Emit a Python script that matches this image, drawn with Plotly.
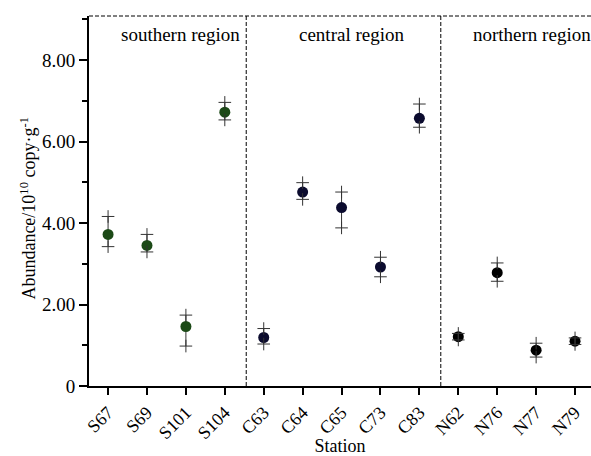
import plotly.graph_objects as go

stations = ["S67", "S69", "S101", "S104", "C63", "C64", "C65", "C73", "C83", "N62", "N76", "N77", "N79"]
regions = ["southern region", "central region", "northern region"]
region_sizes = [4, 5, 4]
region_colors = ["#1c4a17", "#0b0b2e", "#000000"]
values = [3.72, 3.45, 1.46, 6.72, 1.19, 4.76, 4.38, 2.92, 6.57, 1.21, 2.78, 0.88, 1.10]
upper = [4.16, 3.72, 1.74, 6.96, 1.41, 4.99, 4.76, 3.16, 6.92, 1.29, 3.02, 1.05, 1.18]
lower = [3.42, 3.29, 0.98, 6.53, 1.03, 4.58, 3.88, 2.68, 6.35, 1.13, 2.57, 0.71, 1.02]
ytickvals = [0, 2, 4, 6, 8]
yticktext = ["0", "2.00", "4.00", "6.00", "8.00"]

FONT = "Liberation Serif"
ERRC = "#333333"
fig = go.Figure()

start = 0
for reg, n, col in zip(regions, region_sizes, region_colors):
    idx = list(range(start, start + n))
    xs = idx
    ys = [values[i] for i in idx]
    ep = [upper[i] - values[i] for i in idx]
    em = [values[i] - lower[i] for i in idx]
    fig.add_trace(go.Scatter(
        x=xs, y=ys, mode="markers",
        marker=dict(size=11, color=col, line=dict(width=0)),
        error_y=dict(type="data", symmetric=False, array=ep, arrayminus=em,
                     color=ERRC, thickness=1, width=0),
        showlegend=False, name=reg))
    ends_x = xs + xs
    ends_y = [upper[i] for i in idx] + [lower[i] for i in idx]
    fig.add_trace(go.Scatter(
        x=ends_x, y=ends_y, mode="markers",
        marker=dict(symbol="cross-thin-open", size=9, color=ERRC, line=dict(width=1, color=ERRC)),
        showlegend=False, hoverinfo="skip"))
    start += n

bounds = []
acc = 0
for n in region_sizes[:-1]:
    acc += n
    bounds.append(acc - 0.45)
for b in bounds:
    fig.add_shape(type="line", x0=b, x1=b, y0=0, y1=1, xref="x", yref="paper",
                  line=dict(color="black", width=1, dash="4px,2px"))
fig.add_shape(type="line", x0=0, x1=1, y0=1, y1=1, xref="paper", yref="paper",
              line=dict(color="black", width=1, dash="4px,2px"))

label_x = [1.85, 6.25, 10.9]
for reg, lx in zip(regions, label_x):
    fig.add_annotation(x=lx, y=0.985, xref="x", yref="paper", text=reg, showarrow=False,
                       yanchor="top", font=dict(family=FONT, size=19, color="black"))

fig.add_annotation(x=-0.148, y=0.48, xref="paper", yref="paper",
                   text="Abundance/10<sup>10</sup> copy·g<sup>-1</sup>", textangle=-90,
                   showarrow=False, font=dict(family=FONT, size=18, color="black"))

fig.update_layout(
    width=591, height=456,
    margin=dict(l=89, r=0, t=16, b=70),
    plot_bgcolor="white", paper_bgcolor="white",
    font=dict(family=FONT, color="black"),
)
fig.update_xaxes(
    range=[-0.49, 12.41], tickvals=list(range(len(stations))), ticktext=stations,
    tickangle=-45, tickfont=dict(family=FONT, size=18), automargin=False,
    showline=True, linecolor="black", linewidth=2, ticks="outside", ticklen=7,
    tickwidth=2, tickcolor="black", showgrid=False, zeroline=False,
    title=dict(text="Station", font=dict(family=FONT, size=18), standoff=3),
)
fig.update_yaxes(
    range=[0, 9.08], tickvals=ytickvals, ticktext=yticktext,
    tickfont=dict(family=FONT, size=19), automargin=False,
    showline=True, linecolor="black", linewidth=2, ticks="outside", ticklen=8,
    tickwidth=2, tickcolor="black", showgrid=False, zeroline=False,
    minor=dict(tickvals=[1, 3, 5, 7, 9], ticks="outside", ticklen=5, tickwidth=1.5, tickcolor="black"),
)

fig.write_html("out.html")
